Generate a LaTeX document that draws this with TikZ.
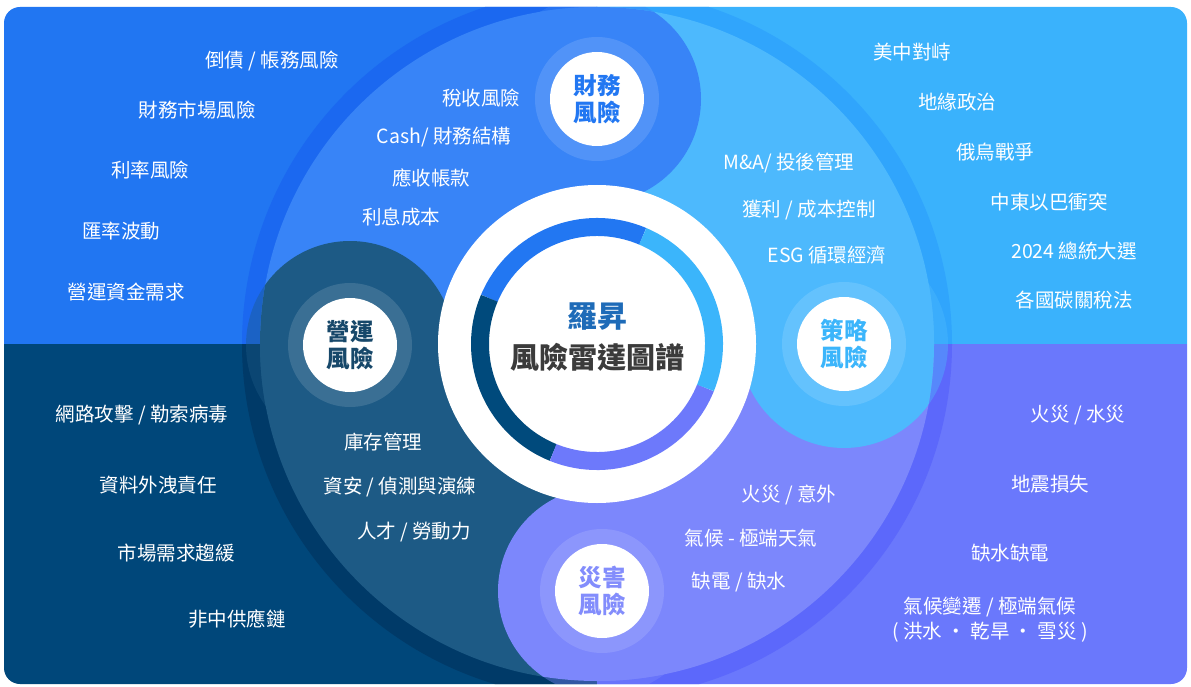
\documentclass[tikz,border=0pt]{standalone}
\usepackage{fontspec}
\setmainfont{Noto Sans CJK TC}
\usetikzlibrary{positioning}

\definecolor{tlbg}{HTML}{2176F2}
\definecolor{tlband}{HTML}{1B68F0}
\definecolor{tlin}{HTML}{3884F7}
\definecolor{trbg}{HTML}{3AB2FC}
\definecolor{trband}{HTML}{30A5FC}
\definecolor{trin}{HTML}{4DB9FD}
\definecolor{blbg}{HTML}{00477A}
\definecolor{blband}{HTML}{003A68}
\definecolor{blin}{HTML}{1D5A85}
\definecolor{brbg}{HTML}{6A78FC}
\definecolor{brband}{HTML}{5C68FB}
\definecolor{brin}{HTML}{7C87FC}
\definecolor{segblue}{HTML}{2277F2}
\definecolor{seglight}{HTML}{3BB5FB}
\definecolor{segnavy}{HTML}{004A7C}
\definecolor{segpurple}{HTML}{6D79FB}
\definecolor{brandc}{HTML}{1E6BB8}
\definecolor{titlec}{HTML}{3B3B3B}

\begin{document}
\begin{tikzpicture}[x=1pt, y=-1pt,
    lbl/.style={text=white, inner sep=0pt, text centered, font=\fontsize{19.5}{22}\selectfont},
    badgetxt/.style={inner sep=0pt, align=center, font=\fontsize{23.5}{27}\selectfont\bfseries},
    halo/.style={fill=white, fill opacity=.13},
    seg/.style={line width=18pt}]
      \useasboundingbox (0,0) rectangle (1191,687);

      % centres %
      \coordinate (c) at (597,344);
      \coordinate (fin) at (597,99);
      \coordinate (str) at (844,344);
      \coordinate (dis) at (602,591);
      \coordinate (ops) at (350,345);

      % background %
      \begin{scope}
        \clip[rounded corners=16pt] (4,7) rectangle (1187,684);
        \fill[tlbg] (0,0) rectangle (597,344);
        \fill[trbg] (597,0) rectangle (1191,344);
        \fill[blbg] (0,344) rectangle (597,687);
        \fill[brbg] (597,344) rectangle (1191,687);
        % outer band %
        \begin{scope}
          \clip (c) circle[radius=355pt];
          \fill[tlband] (0,0) rectangle (597,344);
          \fill[trband] (597,0) rectangle (1191,344);
          \fill[blband] (0,344) rectangle (597,687);
          \fill[brband] (597,344) rectangle (1191,687);
          \fill[tlin, fill opacity=.4] (fin) circle[radius=104pt];
          \fill[trin, fill opacity=.4] (str) circle[radius=104pt];
          \fill[brin, fill opacity=.4] (dis) circle[radius=104pt];
          \fill[blin, fill opacity=.4] (ops) circle[radius=104pt];
        \end{scope}
        % petals %
        \begin{scope}
          \clip (c) circle[radius=337pt];
          \fill[tlin] (0,0) rectangle (597,344);
          \fill[trin] (597,0) rectangle (1191,344);
          \fill[blin] (0,344) rectangle (597,687);
          \fill[brin] (597,344) rectangle (1191,687);
          \fill[tlin] (fin) circle[radius=104pt];
          \fill[trin] (str) circle[radius=104pt];
          \fill[brin] (dis) circle[radius=104pt];
          \fill[blin] (ops) circle[radius=104pt];
        \end{scope}
      \end{scope}

      % badges %
      \fill[halo] (fin) circle[radius=62pt];
      \fill[halo] (str) circle[radius=62pt];
      \fill[halo] (dis) circle[radius=62pt];
      \fill[halo] (ops) circle[radius=62pt];
      \fill[white] (fin) circle[radius=47pt];
      \fill[white] (str) circle[radius=47pt];
      \fill[white] (dis) circle[radius=47pt];
      \fill[white] (ops) circle[radius=47pt];
      \node[badgetxt, text=segblue] (finlbl) at (fin) {財務\\風險};
      \node[badgetxt, text=seglight] (strlbl) at (str) {策略\\風險};
      \node[badgetxt, text=segpurple!85!white] (dislbl) at (dis) {災害\\風險};
      \node[badgetxt, text=blin!80!black] (opslbl) at (ops) {營運\\風險};

      % hub %
      \fill[white] (c) circle[radius=159pt];
      \draw[seg, segblue] (c) ++(67:117pt) arc[start angle=67, end angle=157, radius=117pt];
      \draw[seg, segnavy] (c) ++(157:117pt) arc[start angle=157, end angle=248, radius=117pt];
      \draw[seg, segpurple] (c) ++(248:117pt) arc[start angle=248, end angle=338, radius=117pt];
      \draw[seg, seglight] (c) ++(-22:117pt) arc[start angle=-22, end angle=67, radius=117pt];
      \node[text centered, inner sep=0pt, text=brandc, font=\fontsize{30}{32}\selectfont\bfseries] (brand) at (597,317) {羅昇};
      \node[below of=brand, node distance=40pt, text centered, inner sep=0pt, text=titlec, font=\fontsize{29}{32}\selectfont\bfseries] (title) {風險雷達圖譜};

      % labels: top left %
      \node[lbl] (debt) at (272,61) {倒債 / 帳務風險};
      \node[lbl] (finmkt) at (197,110) {財務市場風險};
      \node[lbl] (rate) at (150,170) {利率風險};
      \node[lbl] (fx) at (121,231) {匯率波動};
      \node[lbl] (wc) at (126,292) {營運資金需求};
      \node[lbl] (tax) at (481,98) {稅收風險};
      \node[lbl] (cash) at (444,137) {Cash/ 財務結構};
      \node[lbl] (ar) at (431,178) {應收帳款};
      \node[lbl] (interest) at (401,217) {利息成本};

      % labels: top right %
      \node[lbl] (ma) at (789,163) {M\&A/ 投後管理};
      \node[lbl] (profit) at (809,210) {獲利 / 成本控制};
      \node[lbl] (esg) at (827,255) {ESG 循環經濟};
      \node[lbl] (uschina) at (912,52) {美中對峙};
      \node[lbl] (geo) at (957,102) {地緣政治};
      \node[lbl] (ruua) at (995,152) {俄烏戰爭};
      \node[lbl] (mideast) at (1049,202) {中東以巴衝突};
      \node[lbl] (elect) at (1074,251) {2024 總統大選};
      \node[lbl] (cbam) at (1074,300) {各國碳關稅法};

      % labels: bottom left %
      \node[lbl] (cyber) at (142,415) {網路攻擊 / 勒索病毒};
      \node[lbl] (leak) at (158,485) {資料外洩責任};
      \node[lbl] (demand) at (176,553) {市場需求趨緩};
      \node[lbl] (supply) at (237,619) {非中供應鏈};
      \node[lbl] (stock) at (383,442) {庫存管理};
      \node[lbl] (infosec) at (400,487) {資安 / 偵測與演練};
      \node[lbl] (labor) at (414,532) {人才 / 勞動力};

      % labels: bottom right %
      \node[lbl] (fire) at (789,495) {火災 / 意外};
      \node[lbl] (climate) at (751,538) {氣候 - 極端天氣};
      \node[lbl] (power) at (739,582) {缺電 / 缺水};
      \node[lbl] (firewater) at (1078,415) {火災 / 水災};
      \node[lbl] (quake) at (1050,484) {地震損失};
      \node[lbl] (shortage) at (1010,553) {缺水缺電};
      \node[lbl] (cc) at (990,607) {氣候變遷 / 極端氣候};
      \node[lbl, below of=cc, node distance=25pt] (ccsub) {( 洪水 ・ 乾旱 ・ 雪災 )};
\end{tikzpicture}
\end{document}
